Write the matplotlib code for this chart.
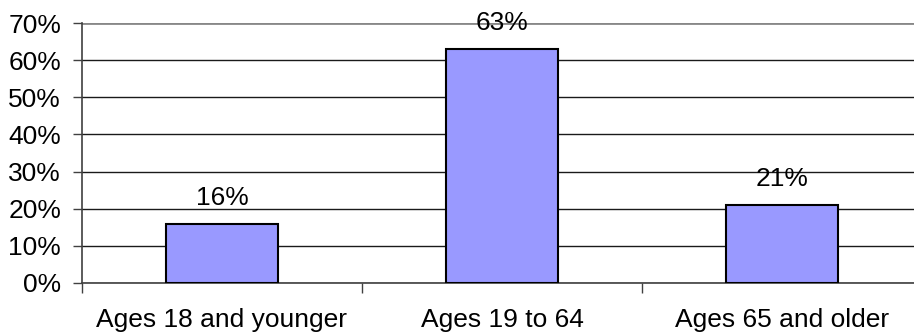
import matplotlib
matplotlib.use("Agg")
import matplotlib.pyplot as plt
import numpy as np

categories = ["Ages 18 and younger", "Ages 19 to 64", "Ages 65 and older"]
shares = [16, 63, 21]
y_ticks = [0, 10, 20, 30, 40, 50, 60, 70]

plt.rcParams["font.family"] = ["Liberation Sans", "DejaVu Sans"]
FS = 19

fig = plt.figure(figsize=(9.14, 3.33), dpi=100)
ax = fig.add_axes([82 / 914, 50 / 333, 840 / 914, 260 / 333])

x = np.arange(len(categories))
ax.bar(x, shares, width=0.4, color="#9999FF", edgecolor="black", linewidth=1.5, zorder=3)

for xi, v in zip(x, shares):
    ax.annotate(f"{v}%", (xi, v), xytext=(0, 13.5), textcoords="offset points",
                ha="center", va="baseline", fontsize=FS, zorder=4)

ax.set_xlim(-0.5, 2.5)
ax.set_ylim(0, 70)
ax.set_yticks(y_ticks)
ax.set_yticklabels([f"{t}%" for t in y_ticks], fontsize=FS)
ax.yaxis.grid(True, color="#1a1a1a", linewidth=1, zorder=0)
ax.set_axisbelow(True)
ax.get_ygridlines()[-1].set_color("#888888")
ax.get_ygridlines()[-1].set_linewidth(2)

ax.set_xticks(x)
ax.set_xticklabels(categories, fontsize=FS)
ax.set_xticks(np.arange(-0.5, 3.0, 1.0), minor=True)
ax.tick_params(axis="x", which="major", length=0, pad=18)
ax.tick_params(axis="x", which="minor", length=7, width=1, direction="out", color="#404040")
ax.tick_params(axis="y", length=6.5, width=1, direction="out", pad=8.5, color="#404040")

for side in ("top", "right"):
    ax.spines[side].set_visible(False)
for side in ("left", "bottom"):
    ax.spines[side].set_linewidth(1.2)
    ax.spines[side].set_color("#404040")

fig.savefig("out.png", dpi=100)
